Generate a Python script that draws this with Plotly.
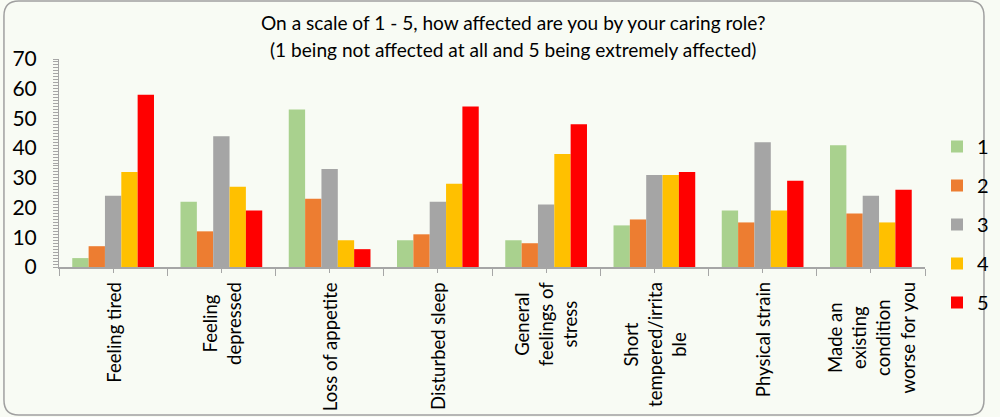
import plotly.graph_objects as go

categories = ["Feeling tired", "Feeling depressed", "Loss of appetite", "Disturbed sleep",
              "General feelings of stress", "Short tempered/irritable", "Physical strain",
              "Made an existing condition worse for you"]
category_labels = ["Feeling tired", "Feeling<br>depressed", "Loss of appetite", "Disturbed sleep",
                   "General<br>feelings of<br>stress", "Short<br>tempered/irrita<br>ble",
                   "Physical strain", "Made an<br>existing<br>condition<br>worse for you"]
series_names = ["1", "2", "3", "4", "5"]
values_1 = [3, 22, 53, 9, 9, 14, 19, 41]
values_2 = [7, 12, 23, 11, 8, 16, 15, 18]
values_3 = [24, 44, 33, 22, 21, 31, 42, 24]
values_4 = [32, 27, 9, 28, 38, 31, 19, 15]
values_5 = [58, 19, 6, 54, 48, 32, 29, 26]
series_values = [values_1, values_2, values_3, values_4, values_5]
colors = ["#A9D18E", "#ED7D31", "#A5A5A5", "#FFC000", "#FF0000"]
title_lines = ["On a scale of 1 - 5, how affected are you by your caring role?",
               "(1 being not affected at all and 5 being extremely affected)"]

W, H = 1000, 417
ML, MR, MT, MB = 57, 62, 59, 150
PW, PH = W - ML - MR, H - MT - MB
BG = "#F8FBF4"
AX = "#A6A6A6"
FONT = "Lato"


def px(x):
    return (x - ML) / PW


def py(y):
    return (H - MB - y) / PH


fig = go.Figure()
for name, vals, col in zip(series_names, series_values, colors):
    fig.add_trace(go.Bar(x=categories, y=vals, name=name, marker_color=col,
                         marker_line_width=0, legendgroup=name))

# helper trace for the mid-category ticks
fig.add_trace(go.Scatter(x=categories, y=[0] * len(categories), mode="none",
                         showlegend=False, hoverinfo="skip", xaxis="x2"))

for cat, lab in zip(categories, category_labels):
    fig.add_annotation(x=cat, xref="x", y=0, yref="y", yshift=-13, yanchor="top",
                       xanchor="center", text=lab, textangle=-90, align="center",
                       showarrow=False, font=dict(family=FONT, size=18.5, color="#000000"))

for line, ypix in zip(title_lines, [23, 50]):
    fig.add_annotation(x=px(519), xref="paper", y=py(ypix), yref="paper", xanchor="center",
                       yanchor="middle", text=line, showarrow=False,
                       font=dict(family=FONT, size=19.1, color="#000000"))

r = 15
x0, x1, y0, y1 = 1, W - 2, 1, H - 2
pts = [
    f"M{px(x0 + r)},{py(y0)}",
    f"L{px(x1 - r)},{py(y0)}",
    f"Q{px(x1)},{py(y0)} {px(x1)},{py(y0 + r)}",
    f"L{px(x1)},{py(y1 - r)}",
    f"Q{px(x1)},{py(y1)} {px(x1 - r)},{py(y1)}",
    f"L{px(x0 + r)},{py(y1)}",
    f"Q{px(x0)},{py(y1)} {px(x0)},{py(y1 - r)}",
    f"L{px(x0)},{py(y0 + r)}",
    f"Q{px(x0)},{py(y0)} {px(x0 + r)},{py(y0)}",
    "Z",
]
fig.add_shape(type="path", path=" ".join(pts), xref="paper", yref="paper",
              line=dict(color="#A0A0A0", width=1.5), fillcolor="rgba(0,0,0,0)")

fig.update_layout(
    width=W, height=H,
    margin=dict(l=ML, r=MR, t=MT, b=MB),
    paper_bgcolor=BG, plot_bgcolor=BG,
    barmode="group", bargap=0.245, bargroupgap=0,
    font=dict(family=FONT, size=18, color="#000000"),
    legend=dict(x=0.937, xref="container", xanchor="left",
                y=1 - 127 / H, yref="container", yanchor="top",
                traceorder="grouped", tracegroupgap=10, maxheight=400,
                bgcolor="rgba(0,0,0,0)", font=dict(family=FONT, size=20)),
    xaxis=dict(type="category", showticklabels=False, showline=True, linecolor=AX,
               linewidth=1.5, ticks="outside", tickson="boundaries", ticklen=7,
               tickcolor=AX, tickwidth=1.2, showgrid=False, zeroline=False),
    xaxis2=dict(type="category", overlaying="x", matches="x", anchor="y",
                showticklabels=False, showline=False, ticks="outside", ticklen=5,
                tickcolor=AX, tickwidth=1.2, showgrid=False, zeroline=False),
    yaxis=dict(range=[0, 70], dtick=10, showline=True, linecolor=AX, linewidth=1,
               ticks="outside", ticklen=5, tickcolor=AX, tickwidth=1,
               minor=dict(dtick=1, ticks="outside", ticklen=5, tickcolor=AX, tickwidth=1),
               showgrid=False, zeroline=False, ticklabelstandoff=12,
               tickfont=dict(family=FONT, size=21)),
    yaxis2=dict(range=[0, 70], overlaying="y", anchor="x", side="left", dtick=10,
                showticklabels=False, showline=False, ticks="inside", ticklen=5,
                tickcolor=AX, tickwidth=1,
                minor=dict(dtick=1, ticks="inside", ticklen=5, tickcolor=AX, tickwidth=1),
                showgrid=False, zeroline=False),
)

fig.write_html("out.html", config={"displayModeBar": False},
               post_script="document.body.style.margin='0';")
